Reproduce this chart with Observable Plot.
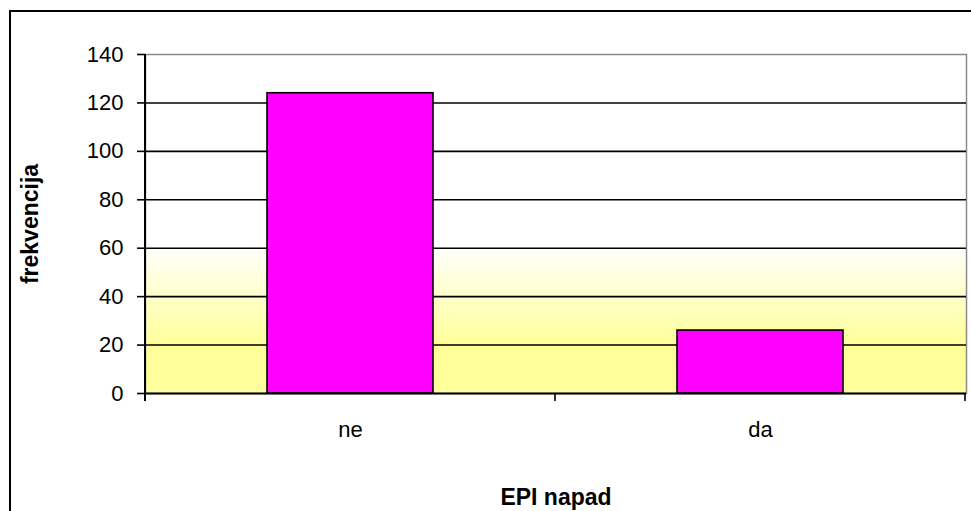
<!DOCTYPE html>
<html>
<head>
<meta charset="utf-8">
<script src="https://cdn.jsdelivr.net/npm/d3@7"></script>
<script src="https://cdn.jsdelivr.net/npm/@observablehq/plot@0.6"></script>
<style>
  html, body { margin: 0; padding: 0; background: white; overflow: hidden; width: 971px; height: 511px; }
  #wrap { position: relative; width: 971px; height: 511px; }
  #chart { position: absolute; left: 0; top: 0; }
  #outer { position: absolute; left: 9px; top: 10px; width: 1100px; height: 700px;
           border-left: 2px solid black; border-top: 2px solid black; pointer-events: none; }
</style>
</head>
<body>
<div id="wrap"><div id="chart"></div><div id="outer"></div></div>
<script>
const categories = ["ne", "da"];
const counts = [124, 26];
const yTicks = [0, 20, 40, 60, 80, 100, 120, 140];
const gridValues = [20, 40, 60, 80, 100, 120];
const yTitle = "frekvencija";
const xTitle = "EPI napad";

const data = categories.map((c, i) => ({cat: c, n: counts[i]}));

const chart = Plot.plot({
  width: 971,
  height: 511,
  marginLeft: 145,
  marginTop: 54,
  marginRight: 5,
  marginBottom: 118,
  style: {fontFamily: "'Liberation Sans', Arial, sans-serif", fontSize: "22px", color: "black", background: "transparent"},
  x: {domain: categories, paddingInner: 0.595, paddingOuter: 0.2975, label: null},
  y: {domain: [0, 140], label: null},
  marks: [
    Plot.frame({fill: "url(#bgGrad)", stroke: "#8a8a8a", strokeWidth: 1.5}),
    Plot.ruleY(gridValues, {stroke: "black", strokeWidth: 1.6}),
    Plot.barY(data, {x: "cat", y: "n", fill: "#FF00FF", stroke: "black", strokeWidth: 1.6}),
    Plot.ruleY([0], {stroke: "black", strokeWidth: 2}),
    Plot.axisY({ticks: yTicks, tickSize: 8, tickPadding: 14, stroke: "black", strokeWidth: 1.6, fontSize: 22, label: null}),
    Plot.axisX({tickSize: 0, tickPadding: 28, fontSize: 22, label: null}),
    Plot.text([yTitle], {text: d => d, frameAnchor: "left", dx: -115, rotate: -90, textAnchor: "middle", lineAnchor: "middle", fontWeight: "bold", fontSize: 23}),
    Plot.text([xTitle], {text: d => d, frameAnchor: "bottom", dy: 104, textAnchor: "middle", lineAnchor: "middle", fontWeight: "bold", fontSize: 23})
  ]
});

// gradient background definition
const svg = d3.select(chart);
const defs = svg.insert("defs", ":first-child");
const grad = defs.append("linearGradient").attr("id", "bgGrad")
  .attr("x1", 0).attr("y1", 0).attr("x2", 0).attr("y2", 1);
grad.append("stop").attr("offset", 0).attr("stop-color", "#ffffff");
grad.append("stop").attr("offset", 0.56).attr("stop-color", "#ffffff");
grad.append("stop").attr("offset", 0.86).attr("stop-color", "#ffff99");
grad.append("stop").attr("offset", 1).attr("stop-color", "#ffff9e");

// left axis line and category-boundary ticks, from the library's scales
const sx = chart.scale("x");
const sy = chart.scale("y");
const y0 = sy.apply(0), yTop = sy.apply(140);
const gap = (sx.step - sx.bandwidth) / 2;
const bounds = categories.map(c => sx.apply(c) - gap);
bounds.push(sx.apply(categories[categories.length - 1]) + sx.bandwidth + gap);
const g = svg.append("g").attr("stroke", "black");
g.append("line").attr("x1", sx.range[0]).attr("x2", sx.range[0]).attr("y1", yTop).attr("y2", y0 + 8).attr("stroke-width", 2);
bounds.slice(1).forEach(b => {
  g.append("line").attr("x1", b).attr("x2", b).attr("y1", y0).attr("y2", y0 + 8).attr("stroke-width", 1.6);
});

document.getElementById("chart").appendChild(chart);
</script>
</body>
</html>
